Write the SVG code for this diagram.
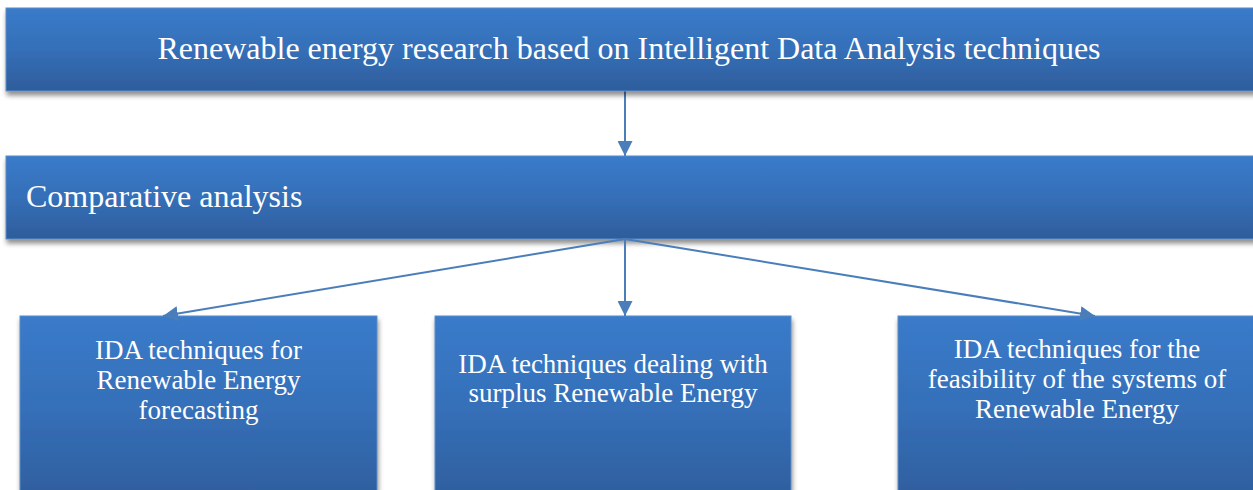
<svg xmlns="http://www.w3.org/2000/svg" width="1253" height="490" viewBox="0 0 1253 490">
<style>
.box{fill:url(#g);stroke:#5b8cc9;stroke-width:1;filter:url(#sh)}
.t{font-family:"Liberation Serif","Times New Roman",serif;fill:#ffffff}
.big{font-size:32px}
.sm{font-size:27px;text-anchor:middle}
.c{stroke:#4a7ebb;stroke-width:2;fill:none;marker-end:url(#ah)}
</style>
<defs>
<linearGradient id="g" x1="0" y1="0" x2="0" y2="1">
<stop offset="0" stop-color="#3a7bca"/>
<stop offset="0.5" stop-color="#356fb8"/>
<stop offset="1" stop-color="#2e5d9b"/>
</linearGradient>
<filter id="sh" x="-5%" y="-10%" width="110%" height="130%">
<feGaussianBlur in="SourceAlpha" stdDeviation="2.5"/>
<feOffset dx="1" dy="4" result="b"/>
<feComponentTransfer><feFuncA type="linear" slope="0.45"/></feComponentTransfer>
<feMerge><feMergeNode/><feMergeNode in="SourceGraphic"/></feMerge>
</filter>
<marker id="ah" viewBox="0 0 10 10" refX="10" refY="5" markerWidth="15" markerHeight="15" markerUnits="userSpaceOnUse" orient="auto">
<path d="M0,0 L10,5 L0,10 z" fill="#4a7ebb"/>
</marker>
</defs>
<g id="connectors">
<line class="c" x1="625" y1="91" x2="625" y2="156"/>
</g>
<g id="n-top">
<rect class="box" x="6" y="8" width="1252" height="83"/>
<text class="t big" x="629" y="59" text-anchor="middle">Renewable energy research based on Intelligent Data Analysis techniques</text>
</g>
<g id="n-comp">
<rect class="box" x="6" y="156" width="1252" height="83"/>
<text class="t big" x="26" y="207">Comparative analysis</text>
</g>
<g id="n-forecast">
<rect class="box" x="20" y="316" width="357" height="190"/>
<text class="t sm" x="198.5" y="359">IDA techniques for</text>
<text class="t sm" x="198.5" y="389">Renewable Energy</text>
<text class="t sm" x="198.5" y="419">forecasting</text>
</g>
<g id="n-surplus">
<rect class="box" x="435" y="316" width="356" height="190"/>
<text class="t sm" x="613" y="373">IDA techniques dealing with</text>
<text class="t sm" x="613" y="402">surplus Renewable Energy</text>
</g>
<g id="n-feas">
<rect class="box" x="898" y="316" width="358" height="190"/>
<text class="t sm" x="1077" y="358">IDA techniques for the</text>
<text class="t sm" x="1077" y="388">feasibility of the systems of</text>
<text class="t sm" x="1077" y="418">Renewable Energy</text>
</g>
<g id="connectors2">
<line class="c" x1="625" y1="239" x2="163" y2="316"/>
<line class="c" x1="625" y1="239" x2="625" y2="316"/>
<line class="c" x1="625" y1="239" x2="1095" y2="316"/>
</g>
</svg>
